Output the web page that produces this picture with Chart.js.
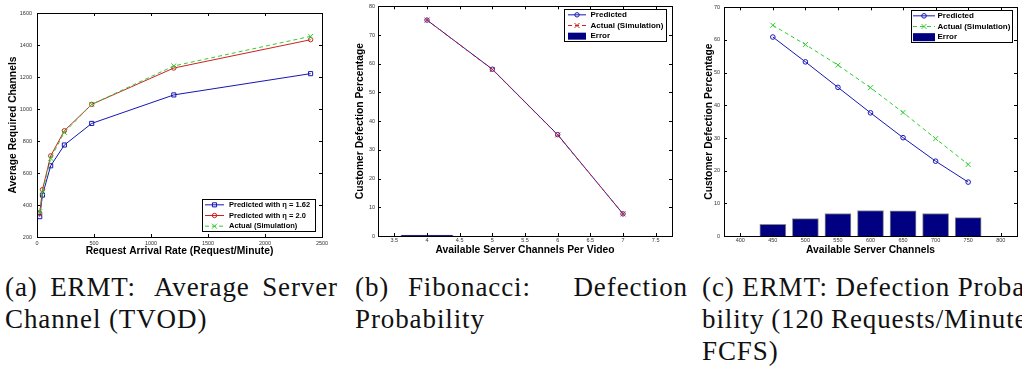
<!DOCTYPE html>
<html><head><meta charset="utf-8">
<script src="https://cdn.jsdelivr.net/npm/chart.js@4/dist/chart.umd.min.js"></script>
<style>
html,body{margin:0;padding:0;background:#fff;width:1022px;height:366px;overflow:hidden;position:relative}
canvas{position:absolute;top:0}
.cap{position:absolute;top:271px;font-family:'Liberation Serif','Times New Roman',serif;font-size:27px;line-height:32px;color:#111;letter-spacing:0.9px}
.cap .ln{width:333px;display:flex;white-space:pre}
.cap .g{flex:1 1 6.75px;min-width:6.75px}
.cap .g2{flex:2 1 6.75px;min-width:6.75px}
.cap .g3{flex:3 1 6.75px;min-width:6.75px}
</style></head><body>
<canvas id="ca" width="345" height="262" style="left:0px"></canvas>
<canvas id="cb" width="350" height="262" style="left:340px"></canvas>
<canvas id="cc" width="332" height="262" style="left:690px"></canvas>

<div class="cap" style="left:5px">
  <div class="ln"><span>(a)</span><i class="g"></i><span>ERMT:</span><i class="g2"></i><span>Average</span><i class="g"></i><span>Server</span></div>
  <div class="ln"><span>Channel (TVOD)</span></div>
</div>
<div class="cap" style="left:355px">
  <div class="ln"><span>(b)</span><i class="g"></i><span>Fibonacci:</span><i class="g3"></i><span>Defection</span></div>
  <div class="ln"><span>Probability</span></div>
</div>
<div class="cap" style="left:702px">
  <div class="ln"><span>(c)</span><i class="g"></i><span>ERMT:</span><i class="g"></i><span>Defection</span><i class="g"></i><span>Proba-</span></div>
  <div class="ln"><span>bility</span><i class="g"></i><span>(120</span><i class="g"></i><span>Requests/Minute,</span></div>
  <div class="ln"><span>FCFS)</span></div>
</div>

<script>
// ---------- Data ----------
// (a) ERMT average server channels
const rateA = [24, 48, 120, 240, 480, 1200, 2400];
const predEta162A = [327, 462, 645, 775, 910, 1088, 1221];
const predEta20A = [349, 496, 707, 864, 1029, 1256, 1433];
const actualA = [358, 479, 692, 854, 1029, 1269, 1454];
const xTicksA = [0, 500, 1000, 1500, 2000, 2500];
const yTicksA = [200, 400, 600, 800, 1000, 1200, 1400, 1600];

// (b) Fibonacci defection probability
const channelsB = [4, 5, 6, 7];
const predB = [75.2, 58.1, 35.3, 7.7];
const actualB = [75.2, 58.0, 35.2, 7.7];
const errorB = [0.3, 0, 0, 0];
const xTicksB = [3.5, 4, 4.5, 5, 5.5, 6, 6.5, 7, 7.5];
const yTicksB = [0, 10, 20, 30, 40, 50, 60, 70, 80];

// (c) ERMT defection probability
const channelsC = [450, 500, 550, 600, 650, 700, 750];
const predC = [60.9, 53.3, 45.5, 37.7, 30.1, 22.9, 16.5];
const actualC = [64.5, 58.6, 52.3, 45.4, 37.8, 29.8, 21.9];
const errorC = [3.6, 5.3, 6.9, 7.8, 7.7, 6.9, 5.6];
const xTicksC = [400, 450, 500, 550, 600, 650, 700, 750, 800];
const yTicksC = [0, 10, 20, 30, 40, 50, 60, 70];

// ---------- Styling ----------
const FAM = '"Liberation Sans", Arial, Helvetica, sans-serif';
const BLUE = '#1616b4';
const RED = '#cc2222';
const GREEN = '#33cc33';
const NAVY = '#000080';
const TITLE_SIZE = 10.3;

function pts(xs, ys) { return xs.map((x, i) => ({x: x, y: ys[i]})); }

function drawMarker(ctx, style, x, y, r) {
  ctx.beginPath();
  if (style === 'rect') {
    const s = Math.SQRT1_2 * r;
    ctx.rect(x - s, y - s, 2 * s, 2 * s);
  } else if (style === 'circle') {
    ctx.arc(x, y, r, 0, Math.PI * 2);
  } else if (style === 'crossRot') {
    const d = Math.SQRT1_2 * r;
    ctx.moveTo(x - d, y - d); ctx.lineTo(x + d, y + d);
    ctx.moveTo(x - d, y + d); ctx.lineTo(x + d, y - d);
  }
  ctx.stroke();
}

const frameTicks = {
  id: 'frameTicks',
  afterDatasetsDraw(chart) {
    const {ctx, chartArea: a} = chart;
    const xs = chart.scales.x, ys = chart.scales.y;
    const L = 3;
    ctx.save();
    ctx.strokeStyle = '#000';
    ctx.lineWidth = 1;
    ctx.setLineDash([]);
    ctx.beginPath();
    xs.ticks.forEach((t, i) => {
      const p = Math.round(xs.getPixelForTick(i)) + 0.5;
      ctx.moveTo(p, a.bottom); ctx.lineTo(p, a.bottom - L);
      ctx.moveTo(p, a.top); ctx.lineTo(p, a.top + L);
    });
    ys.ticks.forEach((t, i) => {
      const p = Math.round(ys.getPixelForTick(i)) + 0.5;
      ctx.moveTo(a.left, p); ctx.lineTo(a.left + L, p);
      ctx.moveTo(a.right, p); ctx.lineTo(a.right - L, p);
    });
    ctx.stroke();
    ctx.strokeRect(Math.round(a.left) + 0.5, Math.round(a.top) + 0.5,
                   Math.round(a.right - a.left), Math.round(a.bottom - a.top));
    ctx.restore();
  }
};

const boxLegend = {
  id: 'boxLegend',
  afterDraw(chart, args, o) {
    if (!o || !o.box) return;
    const ctx = chart.ctx;
    const [bx, by, bw, bh] = o.box;
    ctx.save();
    ctx.fillStyle = '#fff';
    ctx.fillRect(bx, by, bw, bh);
    ctx.strokeStyle = '#000';
    ctx.lineWidth = 1;
    ctx.strokeRect(bx + 0.5, by + 0.5, bw, bh);
    const dsets = chart.data.datasets;
    const rowH = bh / dsets.length;
    ctx.font = 'bold ' + o.fontSize + 'px ' + FAM;
    ctx.textBaseline = 'middle';
    dsets.forEach((ds, i) => {
      const y = by + rowH * (i + 0.5) + 0.5;
      const x0 = bx + o.sampleStart, x1 = bx + o.sampleEnd;
      if (ds.type === 'bar') {
        ctx.fillStyle = ds.backgroundColor;
        ctx.fillRect(x0, y - o.barH / 2, x1 - x0, o.barH);
      } else {
        ctx.strokeStyle = ds.borderColor;
        ctx.lineWidth = ds.borderWidth;
        ctx.setLineDash(ds.borderDash || []);
        ctx.beginPath(); ctx.moveTo(x0, y); ctx.lineTo(x1, y); ctx.stroke();
        ctx.setLineDash([]);
        ctx.lineWidth = ds.pointBorderWidth || 1;
        drawMarker(ctx, ds.pointStyle, (x0 + x1) / 2, y, ds.pointRadius);
      }
      ctx.fillStyle = '#000';
      ctx.fillText(ds.label, bx + o.textStart, y);
    });
    ctx.restore();
  }
};

function makeScales(c) {
  const lh2 = TITLE_SIZE * 1.2 / 2;
  return {
    x: {
      type: 'linear',
      min: c.xTicks[0], max: c.xTicks[c.xTicks.length - 1],
      afterBuildTicks: s => { s.ticks = c.xTicks.map(v => ({value: v})); },
      afterFit: s => { s.height = c.xH; },
      grid: {display: false, drawTicks: false},
      border: {display: false},
      ticks: {autoSkip: false, maxRotation: 0, padding: c.xPad, color: '#333',
              font: {size: 5.5, family: FAM}, callback: v => String(v)},
      title: {display: true, text: c.xTitle, color: '#000',
              font: {size: TITLE_SIZE, weight: 'bold', family: FAM},
              padding: {top: 0, bottom: c.xH + c.areaBottom - lh2 - c.xTitleY}}
    },
    y: {
      type: 'linear',
      min: c.yTicks[0], max: c.yTicks[c.yTicks.length - 1],
      afterBuildTicks: s => { s.ticks = c.yTicks.map(v => ({value: v})); },
      afterFit: s => { s.width = c.yW; },
      grid: {display: false, drawTicks: false},
      border: {display: false},
      ticks: {autoSkip: false, padding: c.yPad, color: '#333',
              font: {size: 5.5, family: FAM}, callback: v => String(v)},
      title: {display: true, text: c.yTitle, color: '#000',
              font: {size: TITLE_SIZE, weight: 'bold', family: FAM},
              padding: {top: c.yTitleX - lh2, bottom: 0}}
    }
  };
}

function lineDs(label, data, color, style, radius, dashed, order) {
  return {
    type: 'line', label: label, data: data, order: order,
    borderColor: color, borderWidth: 1, borderDash: dashed ? [4, 3] : [],
    tension: 0, fill: false,
    pointStyle: style, pointRadius: radius, pointBorderWidth: 1,
    pointBorderColor: color, pointBackgroundColor: 'rgba(0,0,0,0)'
  };
}

function barDs(label, data, order) {
  return {
    type: 'bar', label: label, data: data, order: order,
    backgroundColor: NAVY, borderColor: '#8a8a8a', borderWidth: 1,
    barThickness: 'flex', categoryPercentage: 0.8, barPercentage: 1
  };
}

function baseOptions(c) {
  return {
    responsive: false, maintainAspectRatio: false, animation: false, events: [],
    layout: {padding: {top: c.padTop, right: c.padRight, left: 0, bottom: 0}},
    scales: makeScales(c),
    plugins: {legend: {display: false}, tooltip: {enabled: false}, boxLegend: c.legend}
  };
}

// (a)
new Chart(document.getElementById('ca'), {
  type: 'line',
  data: {datasets: [
    lineDs('Predicted with \u03B7 = 1.62', pts(rateA, predEta162A), BLUE, 'rect', 2.9, false, 2),
    lineDs('Predicted with \u03B7 = 2.0', pts(rateA, predEta20A), RED, 'circle', 2.2, false, 1),
    lineDs('Actual (Simulation)', pts(rateA, actualA), GREEN, 'crossRot', 3.5, true, 0)
  ]},
  options: baseOptions({
    xTicks: xTicksA, yTicks: yTicksA, xH: 25, areaBottom: 237, xTitleY: 251.5, yW: 37,
    xPad: 3, yPad: 5, yTitleX: 13, padTop: 13, padRight: 23,
    xTitle: 'Request Arrival Rate (Request/Minute)', yTitle: 'Average Required Channels',
    legend: {box: [202, 199, 113, 32], fontSize: 7.5, sampleStart: 3, sampleEnd: 22, textStart: 27, barH: 7}
  }),
  plugins: [frameTicks, boxLegend]
});

// (b)
new Chart(document.getElementById('cb'), {
  type: 'line',
  data: {datasets: [
    lineDs('Predicted', pts(channelsB, predB), BLUE, 'circle', 2.2, false, 1),
    lineDs('Actual (Simulation)', pts(channelsB, actualB), RED, 'crossRot', 3.5, true, 0),
    barDs('Error', pts(channelsB, errorB), 2)
  ]},
  options: baseOptions({
    xTicks: xTicksB, yTicks: yTicksB, xH: 26, areaBottom: 236, xTitleY: 250.5, yW: 38,
    xPad: 1, yPad: 3, yTitleX: 20, padTop: 5, padRight: 18,
    xTitle: 'Available Server Channels Per Video', yTitle: 'Customer Defection Percentage',
    legend: {box: [224, 9, 102, 32], fontSize: 8, sampleStart: 4, sampleEnd: 22, textStart: 26.5, barH: 7}
  }),
  plugins: [frameTicks, boxLegend]
});

// (c)
new Chart(document.getElementById('cc'), {
  type: 'line',
  data: {datasets: [
    lineDs('Predicted', pts(channelsC, predC), BLUE, 'circle', 2.3, false, 1),
    lineDs('Actual (Simulation)', pts(channelsC, actualC), GREEN, 'crossRot', 3.5, true, 0),
    barDs('Error', pts(channelsC, errorC), 2)
  ]},
  options: baseOptions({
    xTicks: xTicksC, yTicks: yTicksC, xH: 26, areaBottom: 236, xTitleY: 250.5, yW: 34,
    xPad: 1.5, yPad: 4, yTitleX: 19, padTop: 5, padRight: 4,
    xTitle: 'Available Server Channels', yTitle: 'Customer Defection Percentage',
    legend: {box: [221, 10, 101, 32], fontSize: 8, sampleStart: 2, sampleEnd: 24, textStart: 26.5, barH: 8}
  }),
  plugins: [frameTicks, boxLegend]
});
</script>
</body></html>
